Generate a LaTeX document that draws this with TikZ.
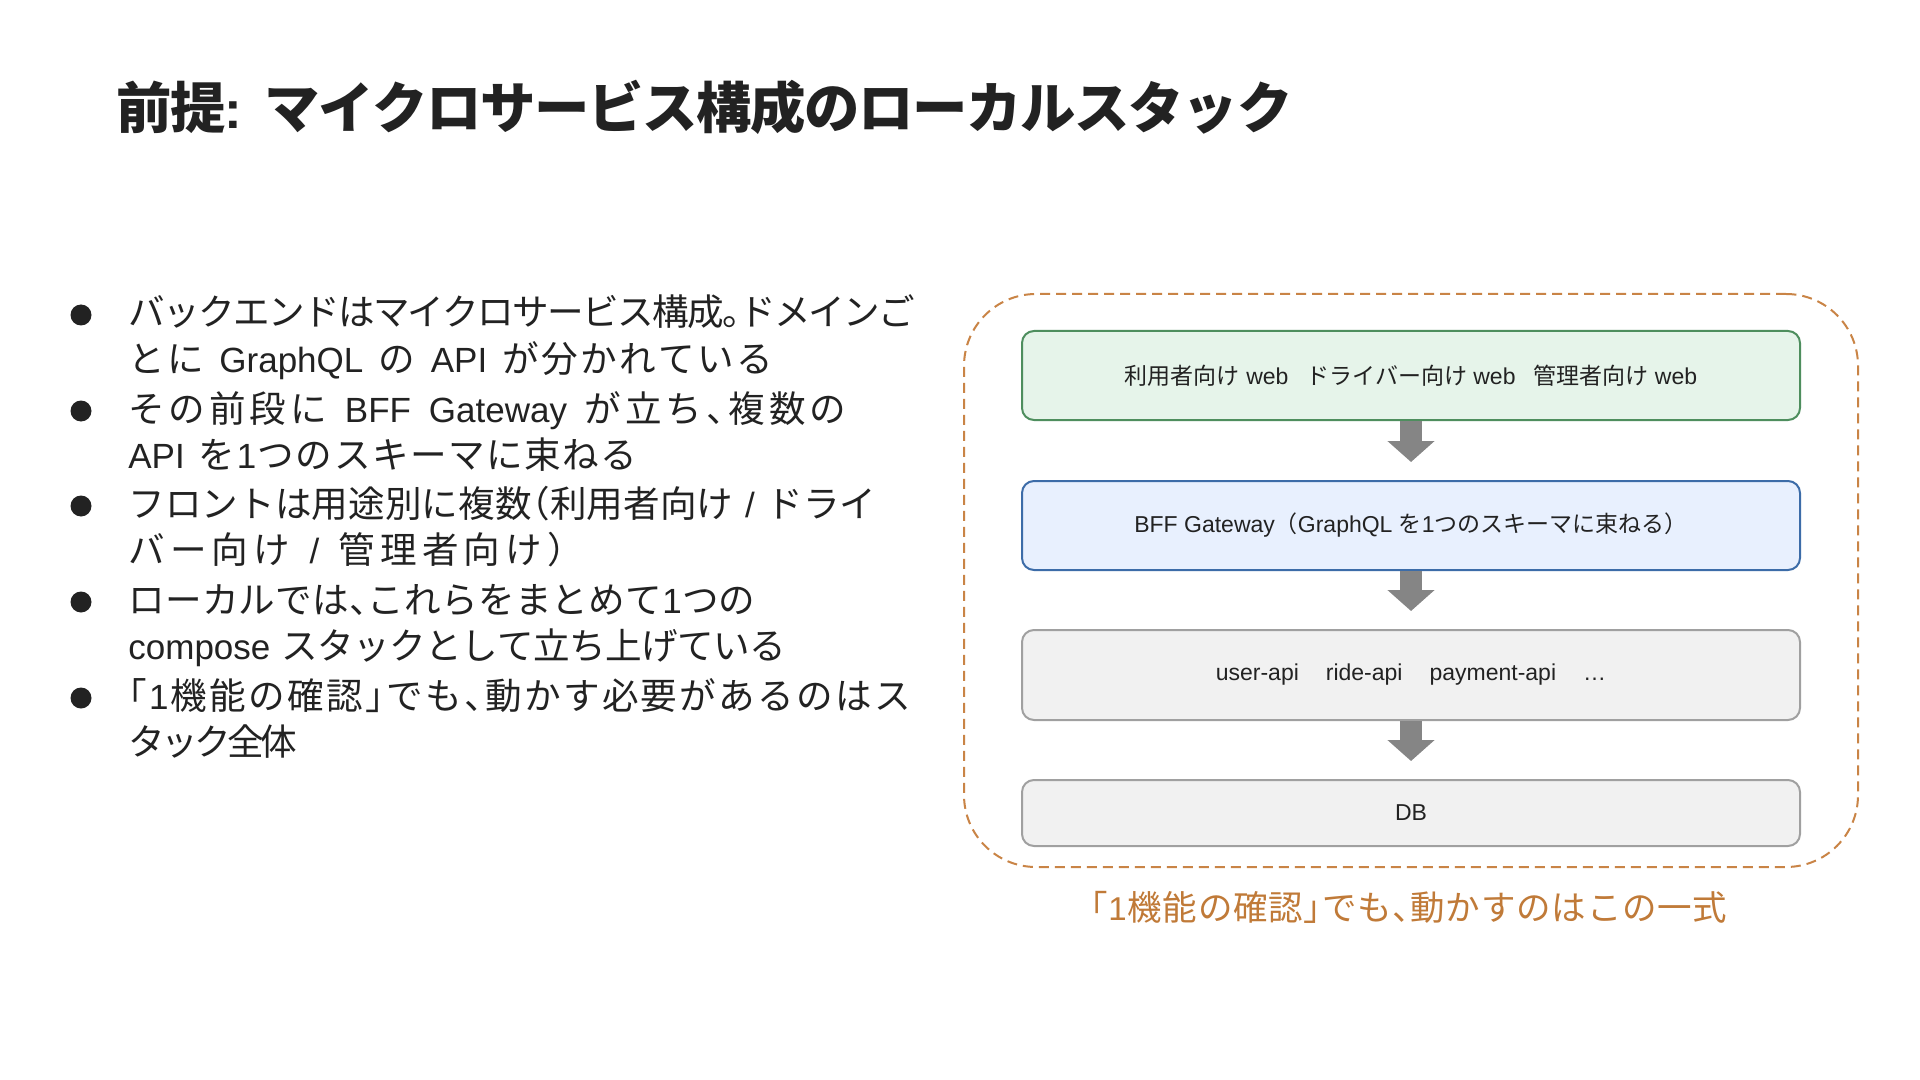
\documentclass[tikz,border=0pt]{standalone}
\usepackage{fontspec}
\setmainfont{Liberation Sans}
\newfontfamily\jpfont{Noto Sans CJK JP}
\newfontfamily\jphfont[Scale=1.045,RawFeature=+halt]{Noto Sans CJK JP}
\let\cjkfont\jpfont
\let\cjkglue\relax
\usetikzlibrary{arrows.meta,calc}
% automatic switch to the Japanese font for CJK characters
\XeTeXinterchartokenstate=1
\ifdefined\newXeTeXintercharclass
  \newXeTeXintercharclass\JPclass
\else
  \chardef\JPclass=10
\fi
\newcount\jpc
\def\setjprange#1#2{\jpc=#1\relax
  \loop\XeTeXcharclass\jpc=\JPclass\relax
  \ifnum\jpc<#2\relax\advance\jpc by 1\relax\repeat}
\setjprange{"3000}{"30FF}
\setjprange{"4E00}{"9FFF}
\setjprange{"FF00}{"FFEF}
\XeTeXinterchartoks \JPclass \JPclass = {\cjkglue}
\XeTeXinterchartoks 0 \JPclass = {\cjkglue\cjkfont}
\XeTeXinterchartoks 4095 \JPclass = {\cjkfont}
\XeTeXinterchartoks \JPclass 0 = {\cjkglue\rmfamily}
\XeTeXinterchartoks \JPclass 4095 = {\rmfamily}
% line fitted to the width it has in the reference
\newskip\fitspace
\newcommand\fitsetup{\let\cjkfont\jphfont
  \def\cjkglue{\hskip 0pt plus 1pt minus 2.5pt\relax}%
  \fitspace=0.33em plus 1.6pt minus 0.3pt\relax
  \spaceskip=\fitspace}
\newcommand\fitline[2]{\hbox to #1{#2}}

\definecolor{ink}{HTML}{222222}
\definecolor{frontfill}{HTML}{E6F4EA}
\definecolor{frontline}{HTML}{4E8E5E}
\definecolor{gwfill}{HTML}{E8F0FE}
\definecolor{gwline}{HTML}{3C6CA8}
\definecolor{svcfill}{HTML}{F1F1F1}
\definecolor{svcline}{HTML}{A0A0A0}
\definecolor{arrowgray}{HTML}{858585}
\definecolor{frameorange}{HTML}{C98446}
\definecolor{capcolor}{HTML}{C07A38}

\tikzset{
  titletext/.style={anchor=base west, inner sep=0pt, text=ink,
    font=\fontsize{26.5}{32}\selectfont\bfseries\fitsetup},
  bodytext/.style={anchor=base west, inner sep=0pt, text=ink,
    font=\fontsize{17.5}{23}\selectfont\fitsetup},
  bulletdot/.style={circle, fill=ink, inner sep=0pt, minimum size=10.5pt},
  stackbox/.style={rounded corners=6pt, line width=1pt, minimum width=389pt,
    inner sep=0pt, text=ink, font=\fontsize{11.5}{14}\selectfont},
  frontbox/.style={stackbox, draw=frontline, fill=frontfill, minimum height=44.5pt},
  gwbox/.style={stackbox, draw=gwline, fill=gwfill, minimum height=44.5pt},
  svcbox/.style={stackbox, draw=svcline, fill=svcfill, minimum height=45pt},
  dbbox/.style={stackbox, draw=svcline, fill=svcfill, minimum height=33pt},
  flowarrow/.style={draw=arrowgray, line width=11pt,
    -{Triangle[length=10.5pt,width=23pt]}, shorten >=9pt},
  stackframe/.style={draw=frameorange, line width=1pt, dash pattern=on 5pt off 3pt,
    rounded corners=36pt, minimum width=447pt, minimum height=286.5pt, inner sep=0pt},
  captiontext/.style={anchor=base west, inner sep=0pt, text=capcolor,
    font=\fontsize{16.5}{20}\selectfont\fitsetup},
}

\begin{document}
\begin{tikzpicture}[x=0.5pt,y=-0.5pt]
\fill[white] (0,0) rectangle (1920,1080);
\useasboundingbox (0,0) rectangle (1920,1080);

% title
\node[titletext] (title) at (116,129) {\fitline{588pt}{前提: マイクロサービス構成のローカルスタック}};

% bullets
\node[bulletdot] (d1) at (81,315) {};
\node[bodytext] (i1a) at (128,326) {\fitline{393.5pt}{バックエンドはマイクロサービス構成。ドメインご}};
\node[bodytext] (i1b) at (128,372) {\fitline{322.5pt}{とに GraphQL の API が分かれている}};
\node[bulletdot] (d2) at (81,411) {};
\node[bodytext] (i2a) at (128,422) {\fitline{359pt}{その前段に BFF Gateway が立ち、複数の}};
\node[bodytext] (i2b) at (128,468) {\fitline{254.5pt}{API を1つのスキーマに束ねる}};
\node[bulletdot] (d3) at (81,506) {};
\node[bodytext] (i3a) at (128,517) {\fitline{374pt}{フロントは用途別に複数（利用者向け / ドライ}};
\node[bodytext] (i3b) at (128,563) {\fitline{218.5pt}{バー向け / 管理者向け）}};
\node[bulletdot] (d4) at (81,602) {};
\node[bodytext] (i4a) at (128,613) {\fitline{313.5pt}{ローカルでは、これらをまとめて1つの}};
\node[bodytext] (i4b) at (128,659) {\fitline{329pt}{compose スタックとして立ち上げている}};
\node[bulletdot] (d5) at (81,698) {};
\node[bodytext] (i5a) at (128,709) {\fitline{391.5pt}{「1機能の確認」でも、動かす必要があるのはス}};
\node[bodytext] (i5b) at (128,755) {\fitline{84.5pt}{タック全体}};

% stack diagram
\node[stackframe] (stack) at (1411,580.5) {};
\node[frontbox] (b1) at (1411,375.5) {利用者向け web\hspace{9pt}ドライバー向け web\hspace{9pt}管理者向け web};
\node[gwbox] (b2) at (1411,525.5) {BFF Gateway（GraphQL を1つのスキーマに束ねる）};
\node[svcbox] (b3) at (1411,675) {user-api\hspace{13.5pt}ride-api\hspace{13.5pt}payment-api\hspace{13.5pt}…};
\node[dbbox] (b4) at (1411,813) {DB};

\draw[flowarrow] (b1.south) -- (b2.north);
\draw[flowarrow] (b2.south) -- (b3.north);
\draw[flowarrow] (b3.south) -- (b4.north);

\node[captiontext] (cap) at (1090,920) {\fitline{318.5pt}{「1機能の確認」でも、動かすのはこの一式}};
\end{tikzpicture}
\end{document}
